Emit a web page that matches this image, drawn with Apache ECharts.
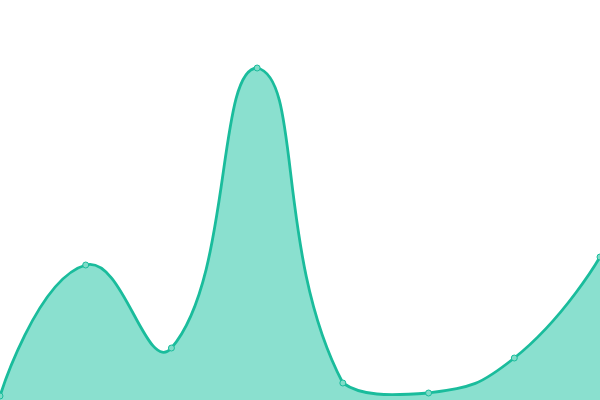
<!DOCTYPE html>
<html>
<head>
<meta charset="utf-8">
<script src="https://cdn.jsdelivr.net/npm/echarts@6/dist/echarts.min.js"></script>
<style>
  html, body { margin: 0; padding: 0; background: #fff; }
  #main { width: 600px; height: 400px; }
</style>
</head>
<body>
<div id="main"></div>
<script>
var categories = ['A', 'B', 'C', 'D', 'E', 'F', 'G', 'H'];
var values = [4, 135, 52, 332, 17, 7, 42, 143];

var lineColor = '#1abc9c';
var areaColor = '#8ae0cf';
var smooth = 0.5;

// bezier smoothing with a bounding-box constraint (older echarts style)
function smoothPath(pts) {
  var minX = Infinity, minY = Infinity, maxX = -Infinity, maxY = -Infinity;
  pts.forEach(function (p) {
    minX = Math.min(minX, p[0]); maxX = Math.max(maxX, p[0]);
    minY = Math.min(minY, p[1]); maxY = Math.max(maxY, p[1]);
  });
  function clamp(c) {
    return [Math.min(Math.max(c[0], minX), maxX), Math.min(Math.max(c[1], minY), maxY)];
  }
  function dist(a, b) {
    return Math.sqrt((a[0] - b[0]) * (a[0] - b[0]) + (a[1] - b[1]) * (a[1] - b[1]));
  }
  var d = 'M' + pts[0][0] + ' ' + pts[0][1];
  var cp0 = pts[0].slice();
  for (var i = 1; i < pts.length; i++) {
    var p = pts[i], prev = pts[i - 1], next = pts[i + 1];
    var cp1, v, ratio = 0.5;
    if (!next) {
      cp1 = p.slice();
    } else {
      v = [next[0] - prev[0], next[1] - prev[1]];
      var l0 = dist(p, prev), l1 = dist(p, next);
      ratio = l1 / (l0 + l1);
      cp1 = [p[0] - v[0] * smooth * (1 - ratio), p[1] - v[1] * smooth * (1 - ratio)];
    }
    var a = clamp(cp0), b = clamp(cp1);
    d += ' C' + a[0] + ' ' + a[1] + ' ' + b[0] + ' ' + b[1] + ' ' + p[0] + ' ' + p[1];
    if (next) {
      cp0 = [p[0] + v[0] * smooth * ratio, p[1] + v[1] * smooth * ratio];
    }
  }
  return d;
}

var myChart = echarts.init(document.getElementById('main'));
var option = {
  animation: false,
  grid: { left: 0, right: 0, top: 0, bottom: 0 },
  xAxis: {
    type: 'category',
    boundaryGap: false,
    data: categories,
    show: false
  },
  yAxis: {
    type: 'value',
    min: 0,
    max: 400,
    show: false
  },
  series: [
    {
      type: 'custom',
      data: values.map(function (v, i) { return [i, v]; }),
      z: 1,
      renderItem: function (params, api) {
        if (params.dataIndex !== 0) return null;
        var pts = values.map(function (v, i) { return api.coord([i, v]); });
        var base = api.coord([0, 0])[1];
        var line = smoothPath(pts);
        var last = pts[pts.length - 1];
        var area = line + ' L' + last[0] + ' ' + base + ' L' + pts[0][0] + ' ' + base + ' Z';
        return {
          type: 'group',
          children: [
            { type: 'path', shape: { pathData: area }, style: { fill: areaColor, stroke: null } },
            { type: 'path', shape: { pathData: line }, style: { fill: null, stroke: lineColor, lineWidth: 2.8 } }
          ]
        };
      }
    },
    {
      type: 'line',
      data: values,
      z: 3,
      symbol: 'circle',
      symbolSize: 6,
      lineStyle: { opacity: 0 },
      itemStyle: { color: '#80dcc8', borderColor: lineColor, borderWidth: 1 }
    }
  ]
};
myChart.setOption(option);
</script>
</body>
</html>
